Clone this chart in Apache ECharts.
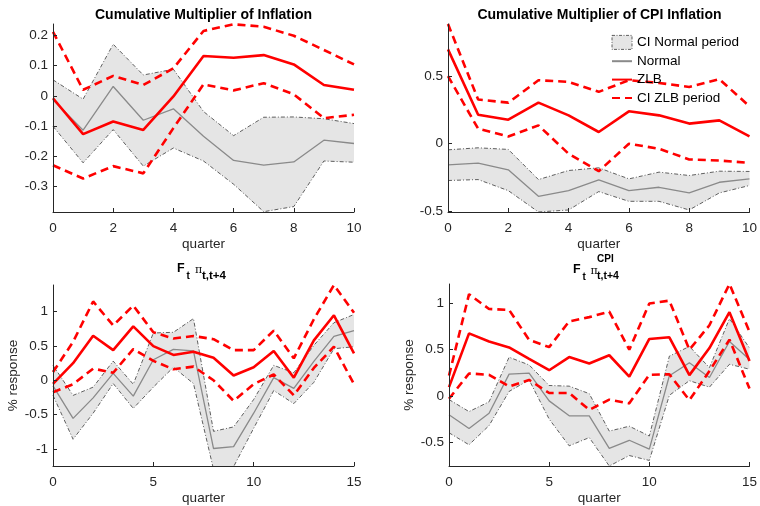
<!DOCTYPE html>
<html><head><meta charset="utf-8">
<script src="https://cdn.jsdelivr.net/npm/echarts@6/dist/echarts.min.js"></script>
<style>html,body{margin:0;padding:0;background:#fff}#c{width:760px;height:506px}</style>
</head><body><div id="c"></div>
<script>
// ---------- data ----------
const quarters10 = ['0','1','2','3','4','5','6','7','8','9','10'];
const quarters15 = ['0','1','2','3','4','5','6','7','8','9','10','11','12','13','14','15'];

// Panel 1: Cumulative Multiplier of Inflation
const inflZlb    = [-0.008,-0.127,-0.085,-0.113,-0.002,0.132,0.126,0.135,0.104,0.036,0.020];
const inflZlbHi  = [0.212,0.020,0.066,0.036,0.091,0.215,0.237,0.229,0.199,0.152,0.104];
const inflZlbLo  = [-0.230,-0.274,-0.233,-0.257,-0.107,0.038,0.018,0.042,0.005,-0.074,-0.063];
const inflNorm   = [-0.013,-0.114,0.031,-0.081,-0.043,-0.134,-0.214,-0.230,-0.219,-0.147,-0.158];
const inflNormHi = [0.053,-0.011,0.171,0.069,0.088,-0.052,-0.132,-0.071,-0.070,-0.076,-0.092];
const inflNormLo = [-0.101,-0.222,-0.112,-0.233,-0.173,-0.216,-0.293,-0.384,-0.367,-0.216,-0.220];

// Panel 2: Cumulative Multiplier of CPI Inflation
const cpiZlb    = [0.698,0.215,0.178,0.304,0.210,0.087,0.240,0.210,0.149,0.173,0.054];
const cpiZlbHi  = [0.886,0.327,0.304,0.470,0.458,0.384,0.470,0.450,0.420,0.478,0.277];
const cpiZlbLo  = [0.500,0.111,0.054,0.136,-0.074,-0.203,0.000,-0.037,-0.116,-0.124,-0.141];
const cpiNorm   = [-0.156,-0.144,-0.193,-0.389,-0.347,-0.267,-0.347,-0.322,-0.364,-0.285,-0.260];
const cpiNormHi = [-0.045,-0.030,-0.042,-0.265,-0.198,-0.178,-0.260,-0.210,-0.235,-0.203,-0.205];
const cpiNormLo = [-0.272,-0.265,-0.347,-0.505,-0.490,-0.354,-0.426,-0.426,-0.490,-0.364,-0.309];

// Panel 3: F_t pi_{t,t+4}
const fZlb    = [-0.052,0.250,0.650,0.440,0.787,0.498,0.370,0.417,0.330,0.070,0.190,0.427,0.038,0.583,0.948,0.393];
const fZlbHi  = [0.120,0.560,1.150,0.800,1.090,0.700,0.610,0.645,0.600,0.440,0.440,0.725,0.320,0.890,1.390,0.985];
const fZlbLo  = [-0.175,-0.057,0.170,0.110,0.455,0.284,0.160,0.200,0.000,-0.300,-0.057,0.085,-0.220,0.180,0.490,-0.057];
const fNorm   = [-0.080,-0.555,-0.256,0.100,-0.230,0.300,0.450,0.430,-0.995,-0.967,-0.480,0.040,-0.118,0.275,0.640,0.725];
const fNormHi = [0.220,-0.220,-0.100,0.280,-0.057,0.690,0.700,0.900,-0.744,-0.680,-0.280,0.218,0.110,0.510,0.840,0.960];
const fNormLo = [-0.220,-0.860,-0.480,-0.047,-0.410,-0.100,0.190,-0.047,-1.300,-1.260,-0.700,-0.150,-0.340,-0.030,0.460,0.490];

// Panel 4: F_t pi^CPI_{t,t+4}
const fcZlb    = [0.095,0.676,0.588,0.525,0.400,0.278,0.420,0.350,0.440,0.208,0.616,0.634,0.225,0.518,0.905,0.377];
const fcZlbHi  = [0.220,1.100,0.940,0.930,0.606,0.528,0.806,0.852,0.912,0.500,1.000,1.030,0.500,0.764,1.210,0.694];
const fcZlbLo  = [-0.030,0.243,0.229,0.102,0.173,0.032,0.032,-0.150,-0.040,-0.080,0.229,0.235,-0.046,0.270,0.609,0.080];
const fcNorm   = [-0.204,-0.352,-0.187,0.236,0.246,-0.053,-0.215,-0.215,-0.567,-0.479,-0.574,0.218,0.359,0.200,0.588,0.394];
const fcNormHi = [-0.039,-0.169,-0.063,0.419,0.335,0.113,0.106,0.025,-0.380,-0.327,-0.433,0.430,0.535,0.306,0.835,0.518];
const fcNormLo = [-0.398,-0.528,-0.320,0.049,0.173,-0.250,-0.539,-0.450,-0.757,-0.644,-0.697,0.007,0.165,0.095,0.342,0.289];

// tick labels
const ticksY1 = [-0.3,-0.2,-0.1,0,0.1,0.2];
const ticksY2 = [-0.5,0,0.5];
const ticksY3 = [-1,-0.5,0,0.5,1];
const ticksY4 = [-0.5,0,0.5,1];

const titles = ['Cumulative Multiplier of Inflation','Cumulative Multiplier of CPI Inflation'];
const legendNames = ['CI Normal period','Normal','ZLB','CI ZLB period'];

// ---------- styling ----------
const FONT = '"Liberation Sans", Arial, Helvetica, sans-serif';
const AX = '#262626';
const RED = '#ff0000';
const GRAYLINE = '#8a8a8a';
const FILL = '#e5e5e5';
const EDGE = '#3a3a3a';
const DASHDOT = [4,2,1,2];

const panels = [
  {q:quarters10, xstep:2, ymin:-0.385, ymax:0.238, ticks:ticksY1,
   zlb:inflZlb, hi:inflZlbHi, lo:inflZlbLo, n:inflNorm, nhi:inflNormHi, nlo:inflNormLo,
   grid:{left:53, top:24, width:301, height:188}, ylab:false},
  {q:quarters10, xstep:2, ymin:-0.505, ymax:0.886, ticks:ticksY2,
   zlb:cpiZlb, hi:cpiZlbHi, lo:cpiZlbLo, n:cpiNorm, nhi:cpiNormHi, nlo:cpiNormLo,
   grid:{left:448, top:24, width:302, height:188}, ylab:false},
  {q:quarters15, xstep:5, ymin:-1.25, ymax:1.39, ticks:ticksY3,
   zlb:fZlb, hi:fZlbHi, lo:fZlbLo, n:fNorm, nhi:fNormHi, nlo:fNormLo,
   grid:{left:53, top:285, width:301, height:186}, ylab:true},
  {q:quarters15, xstep:5, ymin:-0.757, ymax:1.21, ticks:ticksY4,
   zlb:fcZlb, hi:fcZlbHi, lo:fcZlbLo, n:fcNorm, nhi:fcNormHi, nlo:fcNormLo,
   grid:{left:449, top:284, width:301, height:187}, ylab:true}
];

const grids = [], xAxes = [], yAxes = [], series = [];
panels.forEach((p, k) => {
  grids.push(Object.assign({containLabel:false}, p.grid));
  xAxes.push({
    type:'category', gridIndex:k, data:p.q, boundaryGap:false, z:10,
    axisLine:{show:true, onZero:false, lineStyle:{color:AX, width:1}},
    axisTick:{show:true, inside:true, length:4, interval:p.xstep - 1, lineStyle:{color:AX}},
    axisLabel:{fontSize:13.5, color:AX, fontFamily:FONT, margin:9, interval:p.xstep - 1},
    splitLine:{show:false},
    name:'quarter', nameLocation:'middle', nameGap:25,
    nameTextStyle:{fontSize:13.5, color:AX, fontFamily:FONT}
  });
  const ya = {
    type:'value', gridIndex:k, min:p.ymin, max:p.ymax, z:10,
    axisLine:{show:true, onZero:false, lineStyle:{color:AX, width:1}},
    axisTick:{show:true, inside:true, length:4, lineStyle:{color:AX}, customValues:p.ticks},
    axisLabel:{fontSize:13.5, color:AX, fontFamily:FONT, margin:5, customValues:p.ticks,
               formatter:v => String(Math.round(v*10)/10)},
    splitLine:{show:false}
  };
  if (p.ylab) {
    ya.name = '% response'; ya.nameLocation = 'middle'; ya.nameGap = 33;
    ya.nameTextStyle = {fontSize:13.5, color:AX, fontFamily:FONT};
  }
  yAxes.push(ya);

  const base = {type:'line', xAxisIndex:k, yAxisIndex:k, symbol:'none', showSymbol:false, animation:false, silent:true};
  // Normal CI band: lower edge + stacked width
  series.push(Object.assign({}, base, {
    name:'CI Normal lower', data:p.nlo, stack:'band'+k, stackStrategy:'all',
    lineStyle:{color:EDGE, width:0.8, type:DASHDOT}, z:1
  }));
  series.push(Object.assign({}, base, {
    name:'CI Normal period', data:p.nhi.map((h, i) => h - p.nlo[i]),
    stack:'band'+k, stackStrategy:'all',
    areaStyle:{color:FILL, opacity:1},
    itemStyle:{color:FILL},
    lineStyle:{color:EDGE, width:0.8, type:DASHDOT}, z:1
  }));
  series.push(Object.assign({}, base, {
    name:'Normal', data:p.n, lineStyle:{color:GRAYLINE, width:1.3}, itemStyle:{color:GRAYLINE}, z:2
  }));
  series.push(Object.assign({}, base, {
    name:'ZLB', data:p.zlb, lineStyle:{color:RED, width:2.6}, itemStyle:{color:RED}, z:3
  }));
  series.push(Object.assign({}, base, {
    name:'CI ZLB period', data:p.hi, lineStyle:{color:RED, width:2.6, type:[8,5]}, itemStyle:{color:RED}, z:3
  }));
  series.push(Object.assign({}, base, {
    name:'CI ZLB lower', data:p.lo, lineStyle:{color:RED, width:2.6, type:[8,5]}, z:3
  }));
});

const bold = (t, x, y, size, align) => ({type:'text', x, y, silent:true,
  style:{text:t, fill:'#000', font:'bold ' + size + 'px ' + FONT, textAlign:align || 'left', textVerticalAlign:'middle'}});
const norm = (t, x, y, size) => ({type:'text', x, y, silent:true,
  style:{text:t, fill:'#000', font:size + 'px "DejaVu Serif", serif', textAlign:'left', textVerticalAlign:'middle'}});

const graphics = [
  bold(titles[0], 203.5, 15, 14, 'center'),
  bold(titles[1], 599.5, 15, 14, 'center'),
  // F_t pi_{t,t+4}
  bold('F', 177, 269, 12.5), bold('t', 186.5, 276, 10), norm('π', 195, 270, 11), bold('t,t+4', 202, 276, 11.5),
  // F_t pi^{CPI}_{t,t+4}
  bold('F', 573, 270, 12.5), bold('t', 582.5, 277, 10), norm('π', 590.5, 271, 11), bold('CPI', 597, 259.5, 10), bold('t,t+4', 597, 276, 10.5)
];

const hideSym = {opacity:0};
const chart = echarts.init(document.getElementById('c'), null, {renderer:'canvas'});
chart.setOption({
  animation:false,
  backgroundColor:'#fff',
  textStyle:{fontFamily:FONT},
  grid:grids, xAxis:xAxes, yAxis:yAxes, series:series,
  legend:{
    orient:'vertical', left:606, top:30, itemWidth:20, itemHeight:14, itemGap:4.4,
    selectedMode:false,
    textStyle:{fontSize:13.5, color:'#000', fontFamily:FONT},
    data:[
      {name:legendNames[0], icon:'rect', itemStyle:{color:FILL, borderColor:EDGE, borderWidth:0.8, borderType:[3,1.5,1,1.5]}},
      {name:legendNames[1], itemStyle:hideSym},
      {name:legendNames[2], itemStyle:hideSym},
      {name:legendNames[3], itemStyle:hideSym}
    ]
  },
  graphic:graphics
});
</script>
</body></html>
